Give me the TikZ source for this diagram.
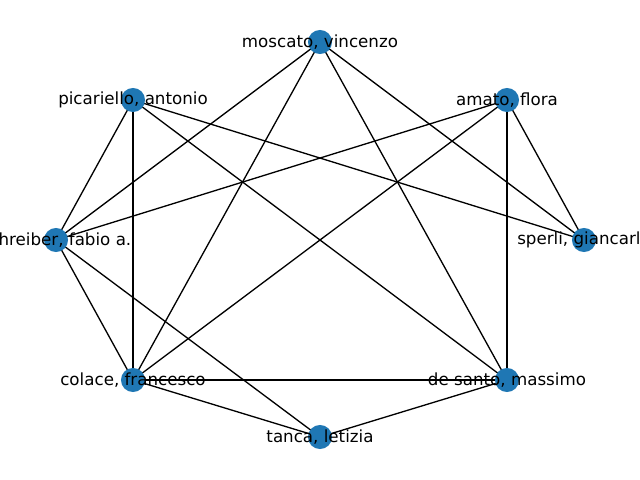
\documentclass[tikz,border=0pt]{standalone}
\usepackage{fontspec}
\setmainfont{DejaVu Sans}
\usetikzlibrary{backgrounds}
\definecolor{nodeblue}{HTML}{1F77B4}
\tikzset{
  vtx/.style={circle,fill=nodeblue,inner sep=0pt,minimum size=13.7pt},
  lbl/.style={inner sep=0pt,font=\fontsize{9.5}{11}\selectfont,text=black},
  edge/.style={draw=black,line width=0.75pt}
}
\begin{document}
\begin{tikzpicture}[x=0.02cm,y=-0.02cm]
\useasboundingbox (0,0) rectangle (640,480);
\clip (0,0) rectangle (640,480);
% vertices on the circle
\node[vtx] (spe) at (584,240) {};
\node[vtx] (ama) at (507,100) {};
\node[vtx] (mos) at (320,42) {};
\node[vtx] (pic) at (133,100) {};
\node[vtx] (sch) at (56,240) {};
\node[vtx] (col) at (133,380) {};
\node[vtx] (tan) at (320,437) {};
\node[vtx] (des) at (507,380) {};
% edges
\begin{scope}[on background layer]
\foreach \a/\b in {mos/sch,mos/col,mos/des,mos/spe,pic/sch,pic/col,pic/des,pic/spe,ama/sch,ama/col,ama/des,ama/spe,sch/col,sch/tan,col/des,col/tan,des/tan}
  \draw[edge] (\a.center)--(\b.center);
\end{scope}
% labels
\node[lbl] (spet) at (spe) {sperli, giancarlo};
\node[lbl] (amat) at (ama) {amato, flora};
\node[lbl] (most) at (mos) {moscato, vincenzo};
\node[lbl] (pict) at (pic) {picariello, antonio};
\node[lbl] (scht) at (sch) {schreiber, fabio a.};
\node[lbl] (colt) at (col) {colace, francesco};
\node[lbl] (tant) at (tan) {tanca, letizia};
\node[lbl] (dest) at (des) {de santo, massimo};
\end{tikzpicture}
\end{document}
